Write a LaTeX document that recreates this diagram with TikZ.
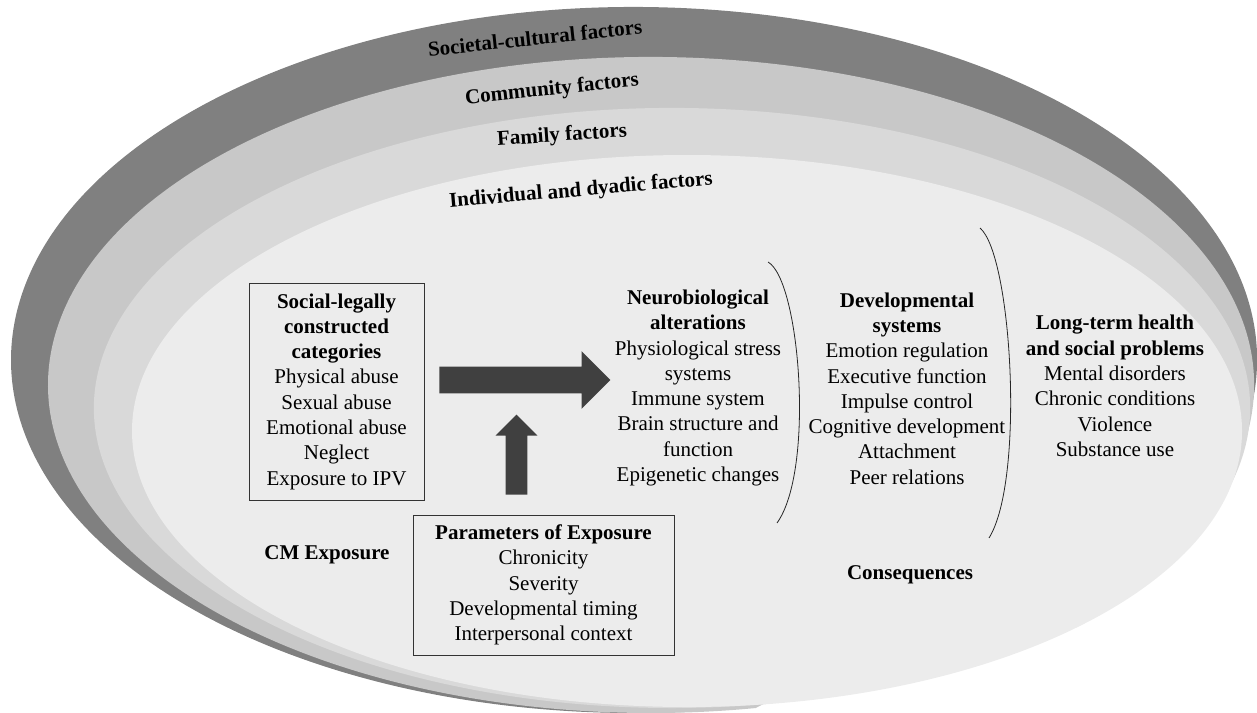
\documentclass[tikz,border=0pt]{standalone}
\usepackage{fontspec}
\setmainfont{Liberation Serif}
\usetikzlibrary{shapes.arrows}
\definecolor{societalgray}{gray}{0.5}
\definecolor{communitygray}{gray}{0.785}
\definecolor{familygray}{gray}{0.85}
\definecolor{individualgray}{gray}{0.925}
\definecolor{arrowgray}{gray}{0.25}
\tikzset{
    txt/.style = {font=\fontsize{10.5}{12.65}\selectfont, align=center, inner sep=0pt},
    head/.style = {txt, font=\fontsize{10.5}{12.65}\selectfont\bfseries},
    catbox/.style = {txt, draw=black!80, line width=0.5pt},
    blockarrow/.style = {single arrow, fill=arrowgray, inner xsep=0pt, anchor=tail},
    brace/.style = {line width=0.4pt, black!85}
}
\begin{document}
\begin{tikzpicture}[x = 0.5pt, y = -0.5pt]
    \useasboundingbox (0,0) rectangle (1257,712);
    \fill[societalgray] (634,360) ++(-8:311.5pt and 176.5pt)
        arc[start angle=-8, end angle=280, x radius=311.5pt, y radius=176.5pt] -- cycle;
    \fill[communitygray] (651,385) ++(-12:301.5pt and 164pt)
        arc[start angle=-12, end angle=280, x radius=301.5pt, y radius=164pt] -- cycle;
    \fill[familygray] (672,408) ++(-17:289pt and 150pt)
        arc[start angle=-17, end angle=280, x radius=289pt, y radius=150pt] -- cycle;
    \fill[individualgray] (687,431) ellipse [x radius=277.5pt, y radius=138pt];

    \node[head, rotate=6] (societal) at (535,38) {Societal-cultural factors};
    \node[head, rotate=6] (community) at (552,90) {Community factors};
    \node[head, rotate=4] (family) at (562,136) {Family factors};
    \node[head, rotate=5] (individual) at (581,191) {Individual and dyadic factors};

    \node[catbox, minimum width=87.5pt, minimum height=108.5pt] (cats) at (336.5,391.5)
        {\textbf{Social-legally}\\\textbf{constructed}\\\textbf{categories}\\Physical abuse\\Sexual abuse\\Emotional abuse\\Neglect\\Exposure to IPV};
    \node[catbox, minimum width=130.5pt, minimum height=70pt] (params) at (543.5,585)
        {\textbf{Parameters of Exposure}\\Chronicity\\Severity\\Developmental timing\\Interpersonal context};
    \node[head] (cmexp) at (327,555) {CM Exposure};

    \node[blockarrow, minimum height=85.5pt, inner ysep=6.5pt, single arrow head extend=7.75pt] (exparrow) at (439,380) {};
    \node[blockarrow, rotate=90, minimum height=40pt, inner ysep=5.25pt, single arrow head extend=5pt] (modarrow) at (516.5,495) {};

    \node[txt] (neuro) at (698,388)
        {\textbf{Neurobiological}\\\textbf{alterations}\\Physiological stress\\systems\\Immune system\\Brain structure and\\function\\Epigenetic changes};
    \node[txt] (devsys) at (907,388.5)
        {\textbf{Developmental}\\\textbf{systems}\\Emotion regulation\\Executive function\\Impulse control\\Cognitive development\\Attachment\\Peer relations};
    \node[txt] (longterm) at (1115,386)
        {\textbf{Long-term health}\\\textbf{and social problems}\\Mental disorders\\Chronic conditions\\Violence\\Substance use};
    \node[head] (conseq) at (910,575) {Consequences};

    \draw[brace] (768,262) .. controls (800,280) and (815,470) .. (777,523);
    \draw[brace] (980,228) .. controls (1012,255) and (1025,480) .. (989,538);
\end{tikzpicture}
\end{document}
